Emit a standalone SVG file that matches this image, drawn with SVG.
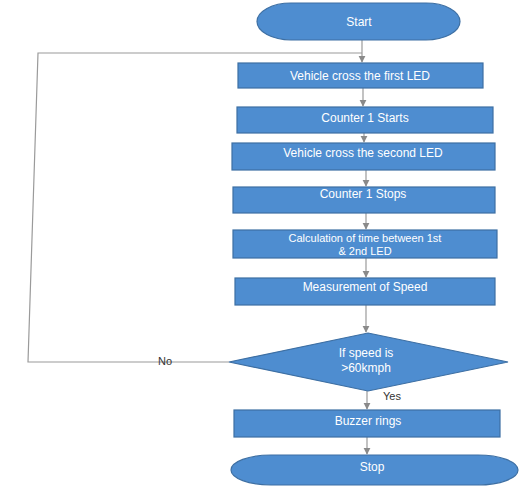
<svg xmlns="http://www.w3.org/2000/svg" width="528" height="499" viewBox="0 0 528 499">
<defs>
<style>
.shape{fill:#4E8DD0;stroke:#3D6FA3;stroke-width:1.2}
.t{fill:#ffffff;font-family:"Liberation Sans",Arial,sans-serif;font-size:12px;text-anchor:middle}
.t2{font-size:11px}
.lbl{fill:#333333;font-family:"Liberation Sans",Arial,sans-serif;font-size:11px;text-anchor:middle}
.c{stroke:#9a9a9a;stroke-width:1.2;fill:none}
</style>
<marker id="ah" viewBox="0 0 10 10" refX="9" refY="5" markerWidth="6" markerHeight="6" orient="auto">
<path d="M0,0 L10,5 L0,10 z" fill="#8a8a8a"/>
</marker>
</defs>
<rect width="528" height="499" fill="#ffffff"/>
<g id="connectors">
<line class="c" x1="362" y1="40" x2="362" y2="62" marker-end="url(#ah)"/>
<path class="c" d="M229,362 L28,362 L38,53 L362,53"/>
<line class="c" x1="363" y1="88" x2="363" y2="106" marker-end="url(#ah)"/>
<line class="c" x1="364" y1="133" x2="364" y2="142" marker-end="url(#ah)"/>
<line class="c" x1="366" y1="170" x2="366" y2="186" marker-end="url(#ah)"/>
<line class="c" x1="366" y1="213" x2="366" y2="229" marker-end="url(#ah)"/>
<line class="c" x1="366" y1="258" x2="366" y2="277" marker-end="url(#ah)"/>
<line class="c" x1="366" y1="305" x2="366" y2="332" marker-end="url(#ah)"/>
<line class="c" x1="367" y1="391" x2="367" y2="409" marker-end="url(#ah)"/>
<line class="c" x1="367" y1="437" x2="367" y2="454" marker-end="url(#ah)"/>
<text class="lbl" x="165" y="365">No</text>
<text class="lbl" x="392" y="400">Yes</text>
</g>
<g id="start">
<rect class="shape" x="257" y="3" width="203" height="37" rx="34" ry="18.5"/>
<text class="t" x="359" y="26">Start</text>
</g>
<g id="cross-first">
<rect class="shape" x="238" y="63" width="245" height="25"/>
<text class="t" x="360" y="80">Vehicle cross the first LED</text>
</g>
<g id="counter-start">
<rect class="shape" x="237" y="107" width="256" height="26"/>
<text class="t" x="365" y="122">Counter 1 Starts</text>
</g>
<g id="cross-second">
<rect class="shape" x="232" y="143" width="263" height="27"/>
<text class="t" x="363" y="157">Vehicle cross the second LED</text>
</g>
<g id="counter-stop">
<rect class="shape" x="233" y="187" width="262" height="26"/>
<text class="t" x="363" y="198">Counter 1 Stops</text>
</g>
<g id="calculation">
<rect class="shape" x="233" y="230" width="264" height="28"/>
<text class="t t2" x="365" y="242">Calculation of time between 1st</text>
<text class="t t2" x="365" y="255">&amp; 2nd LED</text>
</g>
<g id="measurement">
<rect class="shape" x="235" y="278" width="260" height="27"/>
<text class="t" x="365" y="291">Measurement of Speed</text>
</g>
<g id="decision">
<polygon class="shape" points="368,333 508,362 368,391 229,362"/>
<text class="t" x="366" y="357">If speed is</text>
<text class="t" x="366" y="372">&gt;60kmph</text>
</g>
<g id="buzzer">
<rect class="shape" x="234" y="410" width="266" height="27"/>
<text class="t" x="368" y="425">Buzzer rings</text>
</g>
<g id="stop">
<rect class="shape" x="231" y="455" width="287" height="30" rx="40" ry="15"/>
<text class="t" x="372" y="471">Stop</text>
</g>
</svg>
